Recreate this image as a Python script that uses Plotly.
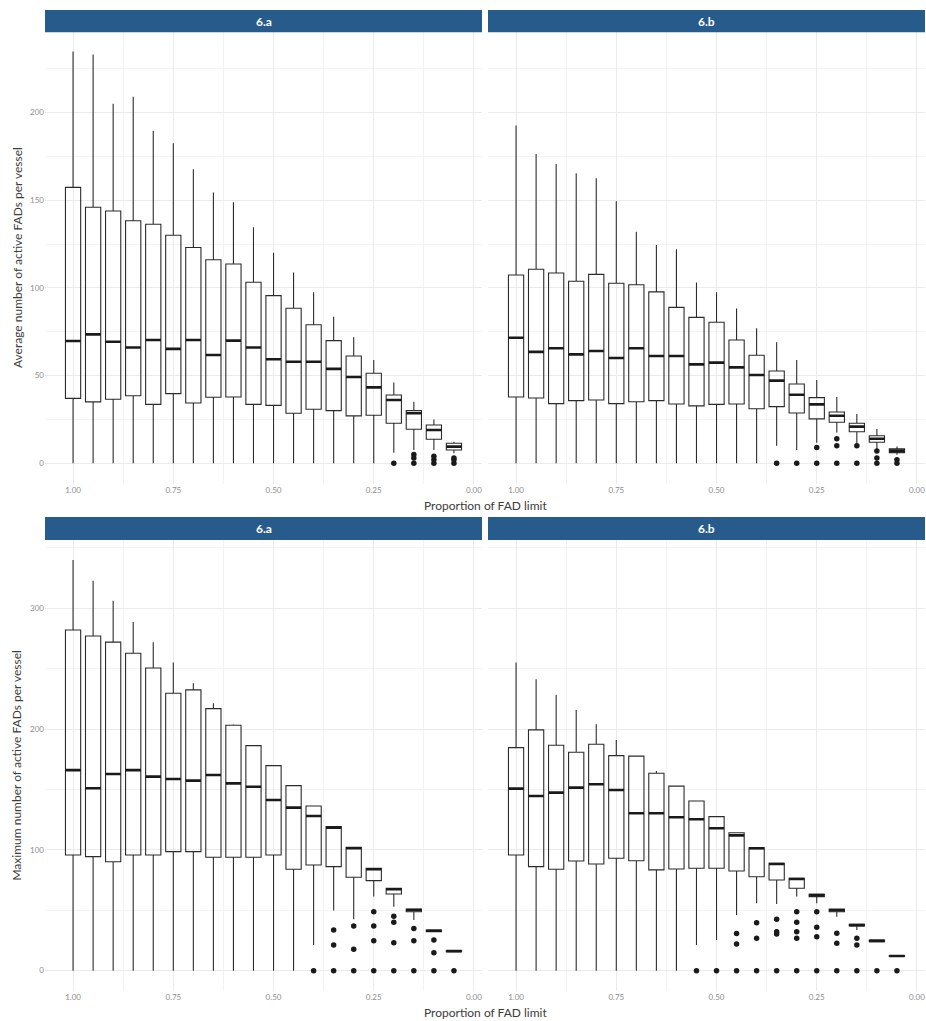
import plotly.graph_objects as go

# ---------------- data ----------------
props = [1.00, 0.95, 0.90, 0.85, 0.80, 0.75, 0.70, 0.65, 0.60, 0.55,
         0.50, 0.45, 0.40, 0.35, 0.30, 0.25, 0.20, 0.15, 0.10, 0.05]
facets = ["6.a", "6.b"]
x_ticks = [1.00, 0.75, 0.50, 0.25, 0.00]

# Average number of active FADs per vessel - 6.a
avg_a_lo = [0, 0, 0, 0, 0, 0, 0, 0, 0, 0, 0, 0, 0, 0, 0, 0, 6, 7.6, 7.6, 5.7]
avg_a_q1 = [37, 35, 36.5, 38.5, 33.6, 39.7, 34.4, 37.6, 37.8, 33.6, 33, 28.5, 30.8, 30, 27, 27.4, 22.8, 19.4, 13.7, 7.6]
avg_a_med = [69.7, 73.5, 69.3, 66, 70.3, 65.2, 70.3, 61.7, 69.9, 66, 59.3, 57.9, 57.9, 53.8, 49.2, 43.3, 36.1, 28.5, 19, 9.5]
avg_a_q3 = [157.3, 146, 143.8, 138.3, 136.3, 130, 123, 116, 113.6, 103.2, 95.6, 88.4, 79, 69.9, 61.2, 51.3, 38.9, 30, 21.8, 11.4]
avg_a_hi = [234.7, 233, 205, 209, 189.6, 182.4, 167.6, 154.3, 148.8, 134.5, 120, 108.7, 97.5, 83.6, 71.8, 58.9, 46, 35.1, 25, 12.3]
avg_a_out = [[], [], [], [], [], [], [], [], [], [], [], [], [], [], [], [],
             [0], [0, 3, 5], [0, 2, 4], [0, 2, 3]]

# Average number of active FADs per vessel - 6.b
avg_b_lo = [0, 0, 0, 0, 0, 0, 0, 0, 0, 0, 0, 0, 0, 10, 7.6, 11.7, 17.5, 11.4, 7.6, 4.9]
avg_b_q1 = [37.8, 37.2, 34, 35.7, 36.1, 34, 35.1, 35.7, 33.8, 32.7, 33.6, 33.8, 31.1, 32.3, 28.7, 25.3, 23.4, 18, 12, 6.1]
avg_b_med = [71.6, 63.5, 65.6, 62.1, 64, 60, 65.6, 61.2, 61.2, 56.4, 57.4, 54.7, 50.3, 47.1, 39.1, 33.6, 27.1, 20.9, 14, 7.2]
avg_b_q3 = [107.3, 110.6, 108.5, 103.8, 107.7, 102.6, 101.8, 97.7, 88.9, 83.2, 80.4, 70.3, 61.6, 52.6, 45.2, 37.4, 29.2, 22.8, 15.7, 8.2]
avg_b_hi = [192.5, 176.3, 170.6, 165.3, 162.5, 149.4, 132, 124.5, 122, 103, 97.5, 88.2, 77, 69, 58.9, 47.5, 37.8, 28.1, 19.6, 9.5]
avg_b_out = [[], [], [], [], [], [], [], [], [], [], [], [], [], [0], [0], [0, 9],
             [0, 10, 14], [0, 10], [0, 3, 7], [0, 2]]

# Maximum number of active FADs per vessel - 6.a
max_a_lo = [0, 0, 0, 0, 0, 0, 0, 0, 0, 0, 0, 0, 21.3, 49.7, 42.5, 61.3, 53, 42, 32.3, 15.7]
max_a_q1 = [95.8, 94.4, 90.2, 95.8, 95.8, 98.5, 98.5, 93.9, 93.9, 93.9, 95.8, 83.9, 87.5, 86.1, 77.3, 74.5, 63.5, 48.8, 32.3, 15.7]
max_a_med = [166, 151, 162.8, 166, 160.6, 158.7, 157.3, 162, 155, 152.3, 141.3, 135, 128, 118.4, 101.3, 83.9, 67.4, 50.2, 33.1, 16.2]
max_a_q3 = [282, 277, 272, 262.7, 250.6, 229.6, 232.4, 216.9, 203.1, 186.3, 169.7, 153.2, 136.3, 119.2, 102.1, 84.8, 68.2, 51.1, 33.7, 16.6]
max_a_hi = [340, 322.8, 306.3, 288.7, 271.8, 255, 237.9, 221.4, 203.7, 186.9, 170.2, 153.6, 136.8, 119.6, 102.5, 85.2, 68.6, 51.5, 34, 16.9]
max_a_out = [[], [], [], [], [], [], [], [], [], [], [], [],
             [0], [0, 21.3, 33.7], [0, 17.7, 37], [0, 24.8, 37, 48.8],
             [0, 23.2, 40, 45], [0, 24.8, 35], [0, 14.9, 25.4], [0]]

# Maximum number of active FADs per vessel - 6.b
max_b_lo = [0, 0, 0, 0, 0, 0, 0, 0, 0, 21.3, 25.4, 46.1, 55.8, 55.2, 61.3, 55.8, 44.7, 33.7, 24, 11.8]
max_b_q1 = [95.8, 86.1, 83.9, 90.8, 88.3, 93, 91, 83.4, 84.2, 84.8, 84.8, 82.5, 77.8, 75, 68.2, 61.3, 48.8, 37, 24, 11.8]
max_b_med = [150.7, 144.6, 147.4, 151.5, 154.3, 149.6, 130.3, 130.3, 127, 125.3, 117.9, 112, 101.3, 88.3, 75.9, 62.6, 50, 37.7, 24.7, 12.2]
max_b_q3 = [184.6, 199.3, 186.6, 180.8, 187.4, 178, 177.6, 163.4, 152.8, 140.5, 127.5, 114.2, 101.8, 88.9, 76.5, 63.2, 51.1, 38.4, 25.4, 12.6]
max_b_hi = [255, 241.2, 228.2, 215.8, 204, 191, 178, 165.3, 153.1, 140.8, 127.8, 114.5, 102.1, 89.2, 76.8, 63.5, 51.4, 38.7, 25.7, 12.9]
max_b_out = [[], [], [], [], [], [], [], [], [], [0], [0], [0, 22, 30.7],
             [0, 26.8, 39.7], [0, 30.4, 32.3, 42.5], [0, 26.8, 32.3, 40, 48.8],
             [0, 28.1, 35.9, 48.8], [0, 22.7, 31], [0, 21.3, 26.8], [0], [0]]

y_title_top = "Average number of active FADs per vessel"
y_title_bot = "Maximum number of active FADs per vessel"
x_title = "Proportion of FAD limit"

# ---------------- layout constants ----------------
W, H = 926, 1021
FONT = "Lato"
BOX_W = 0.038
STRIP = "#275b8b"
GRID = "#ebebeb"

def px_x(p):
    return p / W

def px_y(p):
    return 1 - p / H

dom_x = [[px_x(45), px_x(482)], [px_x(488), px_x(925)]]
dom_y = [[px_y(483.8), px_y(32.3)], [px_y(991.2), px_y(540)]]
strip_y = [[px_y(32.3), px_y(10)], [px_y(540), px_y(517)]]
y_ranges = [[-11.7, 245.7], [-17, 356.5]]
y_dticks = [50, 100]

panels = [
    (0, 0, avg_a_lo, avg_a_q1, avg_a_med, avg_a_q3, avg_a_hi, avg_a_out),
    (0, 1, avg_b_lo, avg_b_q1, avg_b_med, avg_b_q3, avg_b_hi, avg_b_out),
    (1, 0, max_a_lo, max_a_q1, max_a_med, max_a_q3, max_a_hi, max_a_out),
    (1, 1, max_b_lo, max_b_q1, max_b_med, max_b_q3, max_b_hi, max_b_out),
]

fig = go.Figure()
layout = {}
annotations = []
shapes = []

for i, (r, c, lo, q1, med, q3, hi, outs) in enumerate(panels):
    n = i + 1
    xa = "x" if n == 1 else f"x{n}"
    ya = "y" if n == 1 else f"y{n}"
    xkey = "xaxis" if n == 1 else f"xaxis{n}"
    ykey = "yaxis" if n == 1 else f"yaxis{n}"

    fig.add_trace(go.Box(
        x=props, q1=q1, median=med, q3=q3, lowerfence=lo, upperfence=hi,
        width=BOX_W, whiskerwidth=0, boxpoints=False,
        line=dict(color="#2b2b2b", width=1.1),
        fillcolor="rgba(255,255,255,0)",
        xaxis=xa, yaxis=ya, showlegend=False, hoverinfo="skip",
    ))

    # thicker median bars (ggplot style)
    mx, my = [], []
    for p, m in zip(props, med):
        mx += [p - BOX_W / 2, p + BOX_W / 2, None]
        my += [m, m, None]
    fig.add_trace(go.Scatter(
        x=mx, y=my, mode="lines", line=dict(color="#1a1a1a", width=2.6),
        xaxis=xa, yaxis=ya, showlegend=False, hoverinfo="skip",
    ))

    # outliers
    ox, oy = [], []
    for p, vals in zip(props, outs):
        for v in vals:
            ox.append(p)
            oy.append(v)
    fig.add_trace(go.Scatter(
        x=ox, y=oy, mode="markers",
        marker=dict(color="#1a1a1a", size=5.5),
        xaxis=xa, yaxis=ya, showlegend=False, hoverinfo="skip",
    ))

    layout[xkey] = dict(
        domain=dom_x[c], anchor=ya, range=[1.07, -0.02],
        tickmode="array", tickvals=x_ticks,
        ticktext=[f"{t:.2f}" for t in x_ticks],
        showgrid=True, gridcolor=GRID, gridwidth=1,
        minor=dict(tickmode="array", tickvals=[0.875, 0.625, 0.375, 0.125],
                   showgrid=True, gridcolor="#f3f3f3", gridwidth=0.6),
        zeroline=False, showline=False, ticks="",
        tickfont=dict(family=FONT, size=8, color="#8c8c8c"),
    )
    layout[ykey] = dict(
        domain=dom_y[r], anchor=xa, range=y_ranges[r],
        dtick=y_dticks[r], tick0=0,
        showgrid=True, gridcolor=GRID, gridwidth=1,
        minor=dict(dtick=y_dticks[r] / 2, tick0=0, showgrid=True,
                   gridcolor="#f3f3f3", gridwidth=0.6),
        zeroline=False, showline=False, ticks="",
        showticklabels=(c == 0),
        tickfont=dict(family=FONT, size=8, color="#8c8c8c"),
    )

    # facet strip
    shapes.append(dict(type="rect", xref="paper", yref="paper",
                       x0=dom_x[c][0], x1=dom_x[c][1],
                       y0=strip_y[r][0], y1=strip_y[r][1],
                       fillcolor=STRIP, line=dict(width=0), layer="above"))
    annotations.append(dict(text=f"<b>{facets[c]}</b>", xref="paper", yref="paper",
                            x=(dom_x[c][0] + dom_x[c][1]) / 2,
                            y=(strip_y[r][0] + strip_y[r][1]) / 2,
                            showarrow=False, xanchor="center", yanchor="middle",
                            font=dict(family=FONT, size=12, color="white")))

# axis titles
for r, ytxt, xt_y in [(0, y_title_top, 505), (1, y_title_bot, 1012)]:
    annotations.append(dict(text=x_title, xref="paper", yref="paper",
                            x=px_x(485), y=px_y(xt_y), showarrow=False,
                            xanchor="center", yanchor="middle",
                            font=dict(family=FONT, size=12, color="#3c3c3c")))
    annotations.append(dict(text=ytxt, xref="paper", yref="paper",
                            x=px_x(17), y=(dom_y[r][0] + dom_y[r][1]) / 2,
                            showarrow=False, textangle=-90,
                            xanchor="center", yanchor="middle",
                            font=dict(family=FONT, size=12, color="#3c3c3c")))

fig.update_layout(
    width=W, height=H,
    margin=dict(l=0, r=0, t=0, b=0),
    paper_bgcolor="white", plot_bgcolor="white",
    showlegend=False,
    annotations=annotations, shapes=shapes,
    **layout,
)

fig.write_html(
    "out.html",
    config={"displayModeBar": False},
    post_script="document.body.style.margin='0px';document.body.style.overflow='hidden';",
)
